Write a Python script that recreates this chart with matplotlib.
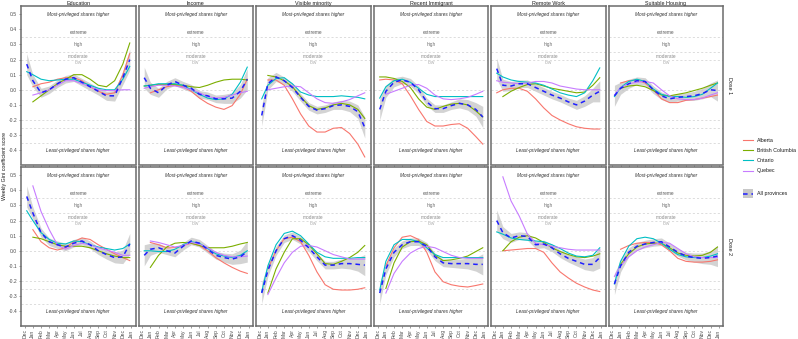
import numpy as np
import matplotlib
matplotlib.use("Agg")
import matplotlib.pyplot as plt
from matplotlib.lines import Line2D
from matplotlib.patches import Rectangle

plt.rcParams["font.family"] = ["Liberation Sans", "DejaVu Sans"]

nan = np.nan

# x position of each reading, in months from Dec 2020 (Dec=0 ... Jan=13)
months = [0.25, 1, 2, 3, 4, 5, 6, 7, 8, 9, 10, 11, 12, 12.85]
tick_labels = ["Dec", "Jan", "Feb", "Mar", "Apr", "May", "Jun", "Jul",
               "Aug", "Sep", "Oct", "Nov", "Dec", "Jan"]
indicators = ["Education", "Income", "Visible minority", "Recent Immigrant",
              "Remote Work", "Suitable Housing"]
doses = ["Dose 1", "Dose 2"]
provinces = ["Alberta", "British Columbia", "Ontario", "Quebec"]

# ribbon half width around the all-provinces curve
band = [0.07, 0.04, 0.03, 0.025, 0.025, 0.025, 0.025, 0.025, 0.025, 0.025, 0.03, 0.035, 0.045, 0.07]

# ---- Dose 1 ----
education_d1 = {
    "Alberta":          [nan, 0.02, 0.04, 0.05, 0.07, 0.08, 0.08, 0.06, 0.02, -0.01, -0.03, -0.02, 0.10, 0.24],
    "British Columbia": [nan, -0.08, -0.04, 0.0, 0.04, 0.07, 0.10, 0.10, 0.07, 0.03, 0.02, 0.06, 0.17, 0.31],
    "Ontario":          [0.12, 0.10, 0.07, 0.06, 0.065, 0.07, 0.07, 0.05, 0.03, 0.01, 0.0, 0.0, 0.07, 0.155],
    "Quebec":           [nan, -0.035, -0.02, 0.0, 0.03, 0.06, 0.06, 0.04, 0.02, 0.0, -0.005, -0.005, 0.0, 0.0],
    "All":              [0.17, 0.06, -0.02, 0.0, 0.04, 0.07, 0.08, 0.05, 0.02, -0.01, -0.04, -0.04, 0.08, 0.2],
}
income_d1 = {
    "Alberta":          [nan, -0.02, 0.0, 0.02, 0.03, 0.02, -0.01, -0.055, -0.09, -0.115, -0.13, -0.105, -0.03, 0.07],
    "British Columbia": [0.025, 0.03, 0.035, 0.035, 0.035, 0.03, 0.02, 0.015, 0.03, 0.05, 0.065, 0.07, 0.07, 0.065],
    "Ontario":          [0.025, 0.03, 0.04, 0.04, 0.04, 0.03, 0.0, -0.03, -0.055, -0.065, -0.06, -0.03, 0.05, 0.15],
    "Quebec":           [0.01, 0.02, 0.03, 0.03, 0.025, 0.015, 0.0, -0.02, -0.045, -0.055, -0.05, -0.035, -0.02, -0.01],
    "All":              [0.08, 0.01, -0.02, 0.03, 0.055, 0.03, 0.01, -0.03, -0.04, -0.06, -0.06, -0.055, -0.01, 0.07],
}
visible_d1 = {
    "Alberta":          [nan, 0.065, 0.065, 0.03, -0.06, -0.16, -0.24, -0.28, -0.28, -0.255, -0.25, -0.29, -0.36, -0.445],
    "British Columbia": [nan, 0.095, 0.085, 0.06, 0.02, -0.045, -0.105, -0.13, -0.12, -0.1, -0.09, -0.1, -0.13, -0.19],
    "Ontario":          [-0.06, 0.03, 0.075, 0.08, 0.04, -0.015, -0.035, -0.045, -0.045, -0.045, -0.04, -0.045, -0.05, -0.06],
    "Quebec":           [nan, 0.0, 0.01, 0.02, 0.025, 0.02, -0.02, -0.06, -0.085, -0.09, -0.08, -0.065, -0.04, -0.02],
    "All":              [-0.17, 0.04, 0.085, 0.06, 0.015, -0.05, -0.11, -0.135, -0.125, -0.105, -0.1, -0.11, -0.145, -0.25],
}
immigrant_d1 = {
    "Alberta":          [0.065, 0.07, 0.065, 0.04, -0.04, -0.13, -0.21, -0.24, -0.24, -0.23, -0.225, -0.255, -0.31, -0.36],
    "British Columbia": [0.085, 0.085, 0.075, 0.055, 0.015, -0.06, -0.115, -0.13, -0.11, -0.095, -0.09, -0.1, -0.14, -0.18],
    "Ontario":          [-0.055, 0.02, 0.06, 0.07, 0.05, 0.01, -0.03, -0.045, -0.045, -0.045, -0.045, -0.045, -0.045, -0.045],
    "Quebec":           [nan, -0.03, -0.01, 0.01, 0.03, 0.035, 0.01, -0.035, -0.06, -0.065, -0.06, -0.05, -0.03, -0.01],
    "All":              [-0.13, -0.01, 0.05, 0.065, 0.05, 0.0, -0.08, -0.125, -0.125, -0.105, -0.09, -0.1, -0.13, -0.18],
}
remote_d1 = {
    "Alberta":          [-0.02, 0.0, 0.01, 0.01, -0.01, -0.06, -0.12, -0.17, -0.2, -0.225, -0.245, -0.255, -0.26, -0.26],
    "British Columbia": [nan, -0.045, -0.01, 0.015, 0.035, 0.04, 0.025, 0.01, 0.0, -0.01, -0.02, -0.015, 0.03, 0.08],
    "Ontario":          [0.11, 0.085, 0.065, 0.055, 0.05, 0.045, 0.03, 0.005, -0.02, -0.035, -0.045, -0.02, 0.06, 0.145],
    "Quebec":           [0.06, 0.05, 0.045, 0.04, 0.045, 0.055, 0.055, 0.045, 0.025, 0.015, 0.005, 0.0, 0.0, 0.0],
    "All":              [0.14, 0.03, 0.025, 0.04, 0.04, 0.015, -0.01, -0.035, -0.055, -0.08, -0.1, -0.075, -0.035, -0.01],
}
housing_d1 = {
    "Alberta":          [nan, 0.045, 0.06, 0.065, 0.045, 0.0, -0.06, -0.085, -0.085, -0.07, -0.065, -0.055, -0.045, -0.035],
    "British Columbia": [nan, 0.01, 0.025, 0.03, 0.02, -0.005, -0.035, -0.04, -0.03, -0.02, -0.005, 0.01, 0.03, 0.045],
    "Ontario":          [-0.045, 0.015, 0.055, 0.07, 0.055, 0.005, -0.03, -0.045, -0.045, -0.05, -0.045, -0.03, 0.01, 0.045],
    "Quebec":           [-0.035, 0.015, 0.04, 0.05, 0.055, 0.045, 0.0, -0.04, -0.06, -0.065, -0.065, -0.055, -0.035, -0.02],
    "All":              [-0.04, 0.01, 0.04, 0.06, 0.055, 0.0, -0.04, -0.06, -0.05, -0.045, -0.04, -0.025, 0.0, -0.005],
}

# ---- Dose 2 ----
education_d2 = {
    "Alberta":          [nan, 0.14, 0.06, 0.02, 0.005, 0.02, 0.06, 0.085, 0.075, 0.04, 0.01, -0.02, -0.045, -0.065],
    "British Columbia": [nan, 0.09, 0.08, 0.06, 0.04, 0.03, 0.03, 0.03, 0.02, 0.0, -0.02, -0.035, -0.045, -0.045],
    "Ontario":          [0.265, 0.2, 0.12, 0.075, 0.05, 0.045, 0.065, 0.06, 0.04, 0.025, 0.015, 0.005, 0.015, 0.045],
    "Quebec":           [nan, 0.43, 0.26, 0.14, 0.04, 0.01, 0.035, 0.05, 0.04, 0.02, 0.005, -0.01, -0.03, -0.03],
    "All":              [0.36, 0.25, 0.12, 0.06, 0.04, 0.025, 0.05, 0.065, 0.04, 0.0, -0.025, -0.045, -0.04, 0.045],
}
income_d2 = {
    "Alberta":          [nan, 0.055, 0.04, 0.02, 0.02, 0.035, 0.05, 0.035, 0.0, -0.045, -0.08, -0.11, -0.135, -0.15],
    "British Columbia": [nan, -0.11, -0.03, 0.025, 0.05, 0.055, 0.05, 0.035, 0.02, 0.02, 0.02, 0.03, 0.045, 0.055],
    "Ontario":          [0.0, 0.0, -0.005, -0.005, 0.01, 0.04, 0.06, 0.05, 0.015, -0.02, -0.035, -0.045, -0.03, 0.0],
    "Quebec":           [nan, 0.065, 0.055, 0.04, 0.025, 0.035, 0.055, 0.045, 0.02, -0.01, -0.03, -0.04, -0.04, -0.035],
    "All":              [-0.03, 0.01, 0.02, 0.0, -0.015, 0.03, 0.065, 0.05, 0.01, -0.03, -0.045, -0.055, -0.04, -0.005],
}
visible_d2 = {
    "Alberta":          [nan, -0.12, 0.0, 0.08, 0.09, 0.06, -0.03, -0.14, -0.225, -0.255, -0.26, -0.26, -0.255, -0.245],
    "British Columbia": [nan, -0.28, -0.12, -0.01, 0.08, 0.08, 0.04, -0.02, -0.085, -0.09, -0.07, -0.045, -0.01, 0.035],
    "Ontario":          [-0.27, -0.1, 0.04, 0.115, 0.13, 0.1, 0.045, -0.01, -0.04, -0.05, -0.05, -0.05, -0.045, -0.045],
    "Quebec":           [nan, -0.29, -0.18, -0.08, -0.01, 0.03, 0.035, 0.025, 0.0, -0.025, -0.04, -0.055, -0.055, -0.055],
    "All":              [-0.28, -0.13, 0.0, 0.08, 0.1, 0.07, 0.02, -0.04, -0.095, -0.095, -0.085, -0.085, -0.09, -0.095],
}
immigrant_d2 = {
    "Alberta":          [nan, -0.1, 0.02, 0.09, 0.1, 0.075, -0.01, -0.14, -0.205, -0.225, -0.235, -0.24, -0.23, -0.22],
    "British Columbia": [nan, -0.25, -0.08, 0.025, 0.06, 0.065, 0.04, -0.03, -0.065, -0.06, -0.05, -0.035, -0.005, 0.02],
    "Ontario":          [-0.26, -0.07, 0.04, 0.075, 0.075, 0.06, 0.02, -0.025, -0.045, -0.045, -0.045, -0.045, -0.045, -0.045],
    "Quebec":           [nan, -0.28, -0.15, -0.07, -0.015, 0.015, 0.03, 0.02, -0.005, -0.03, -0.045, -0.05, -0.05, -0.05],
    "All":              [-0.28, -0.12, -0.01, 0.04, 0.06, 0.06, 0.03, -0.04, -0.08, -0.085, -0.085, -0.085, -0.09, -0.09],
}
remote_d2 = {
    "Alberta":          [nan, 0.0, 0.005, 0.01, 0.015, 0.015, -0.01, -0.08, -0.14, -0.18, -0.215, -0.24, -0.26, -0.27],
    "British Columbia": [nan, 0.0, 0.06, 0.09, 0.1, 0.085, 0.055, 0.02, -0.005, -0.025, -0.04, -0.045, -0.035, -0.02],
    "Ontario":          [0.125, 0.11, 0.085, 0.075, 0.07, 0.065, 0.06, 0.04, 0.015, -0.015, -0.035, -0.04, -0.03, 0.02],
    "Quebec":           [nan, 0.49, 0.33, 0.23, 0.11, 0.05, 0.04, 0.03, 0.02, 0.01, 0.005, 0.005, 0.005, 0.005],
    "All":              [0.2, 0.12, 0.085, 0.1, 0.095, 0.04, 0.045, 0.02, -0.02, -0.05, -0.07, -0.09, -0.09, -0.045],
}
housing_d2 = {
    "Alberta":          [nan, 0.01, 0.035, 0.05, 0.055, 0.055, 0.04, 0.0, -0.05, -0.07, -0.075, -0.075, -0.07, -0.06],
    "British Columbia": [nan, -0.09, -0.02, 0.025, 0.045, 0.05, 0.05, 0.02, -0.015, -0.03, -0.035, -0.03, -0.01, 0.025],
    "Ontario":          [-0.22, -0.07, 0.03, 0.08, 0.09, 0.08, 0.05, 0.01, -0.025, -0.04, -0.045, -0.045, -0.035, -0.02],
    "Quebec":           [-0.17, -0.1, -0.04, 0.0, 0.025, 0.04, 0.055, 0.05, 0.015, -0.02, -0.04, -0.045, -0.045, -0.045],
    "All":              [-0.22, -0.1, -0.01, 0.03, 0.045, 0.055, 0.06, 0.025, -0.01, -0.035, -0.045, -0.05, -0.045, -0.035],
}

panels = [
    [education_d1, income_d1, visible_d1, immigrant_d1, remote_d1, housing_d1],
    [education_d2, income_d2, visible_d2, immigrant_d2, remote_d2, housing_d2],
]

colors = {"Alberta": "#F8766D", "British Columbia": "#7CAE00",
          "Ontario": "#00BFC4", "Quebec": "#C77CFF"}

# severity bands (dashed reference lines) and their labels
ref_lines = [0.35, 0.25, 0.2, 0.0, -0.2, -0.25, -0.35]
band_labels = [("extreme", 0.38, "#595959"), ("high", 0.30, "#6e6e6e"),
               ("moderate", 0.222, "#8a8a8a"), ("low", 0.178, "#b0b0b0")]

W, H = 798, 339
fig = plt.figure(figsize=(W / 100, H / 100), dpi=100)

col_left = [21, 138.5, 256, 374, 491, 608.7]
col_w = 114.5
row_top = [6, 167]
row_h = 158.5

fs_txt = 3.4    # annotations inside panels
fs_tick = 3.6
fs_strip = 3.9
for r in range(2):
    for c in range(6):
        ax = fig.add_axes([col_left[c] / W, 1 - (row_top[r] + row_h) / H,
                           col_w / W, row_h / H])
        data = panels[r][c]
        x = np.array(months)
        for y0 in ref_lines:
            ax.axhline(y0, color="#cfcfcf", lw=0.5, ls=(0, (3, 3)), zorder=1)
        for name, yv, col in band_labels:
            ax.text(6.55, yv, name, ha="center", va="center", fontsize=fs_txt, color=col)
        ax.text(6.55, 0.5, "Most-privileged shares higher", ha="center", va="center",
                fontsize=fs_txt, style="italic", color="#333333")
        ax.text(6.55, -0.4, "Least-privileged shares higher", ha="center", va="center",
                fontsize=fs_txt, style="italic", color="#333333")
        allv = np.array(data["All"])
        bw = np.array(band)
        ax.fill_between(x, allv - bw, allv + bw, color="#c8c8c8", alpha=0.8, lw=0, zorder=2)
        for p in provinces:
            ax.plot(x, data[p], color=colors[p], lw=0.8, zorder=3)
        ax.plot(x, allv, color="#1f1fff", lw=1.1, ls=(0, (3, 2.5)), zorder=4)

        ax.set_xlim(-0.45, 13.55)
        ax.set_ylim(-0.495, 0.555)
        ax.set_xticks(range(14))
        ax.set_yticks([-0.4, -0.3, -0.2, -0.1, 0.0, 0.1, 0.2, 0.3, 0.4, 0.5])
        ax.tick_params(length=1.5, width=0.4, color="#555555", labelsize=fs_tick,
                       labelcolor="#4d4d4d", pad=1.2)
        if r == 1:
            ax.set_xticklabels(tick_labels, rotation=90)
        else:
            ax.set_xticklabels([])
        if c == 0:
            ax.set_yticklabels(["-0.4", "-0.3", "-0.2", "-0.1", "0.0", "0.1",
                                "0.2", "0.3", "0.4", "0.5"])
        else:
            ax.set_yticklabels([])
            ax.tick_params(axis="y", length=0)
        for s in ax.spines.values():
            s.set_color("#6b6b6b")
            s.set_linewidth(1.1)
        if r == 0:
            ax.set_title(indicators[c], fontsize=fs_strip, color="#1a1a1a", pad=1.0)
        if c == 5:
            ax.text(1.03, 0.5, doses[r], transform=ax.transAxes, rotation=270,
                    ha="left", va="center", fontsize=fs_strip, color="#1a1a1a")

fig.text(5 / W, 1 - 166 / H, "Weekly Gini coefficient score", rotation=90,
         ha="center", va="center", fontsize=3.8, color="#1a1a1a")

# legend
leg_y = [140, 150, 160.3, 170.7]
for p, yy in zip(provinces, leg_y):
    fy = 1 - yy / H
    fig.add_artist(Line2D([743 / W, 753 / W], [fy, fy], color=colors[p], lw=0.8))
    fig.text(757 / W, fy, p, fontsize=3.8, va="center", ha="left", color="#1a1a1a")
fig.add_artist(Rectangle((742.7 / W, 1 - 198.3 / H), 10 / W, 9 / H,
                         color="#c8c8c8", lw=0))
fy = 1 - 193.7 / H
fig.add_artist(Line2D([743 / W, 753 / W], [fy, fy], color="#1f1fff", lw=1.1,
                      ls=(0, (3, 2.5))))
fig.text(757 / W, fy, "All provinces", fontsize=3.8, va="center", ha="left",
         color="#1a1a1a")

fig.savefig("out.png", dpi=100)
